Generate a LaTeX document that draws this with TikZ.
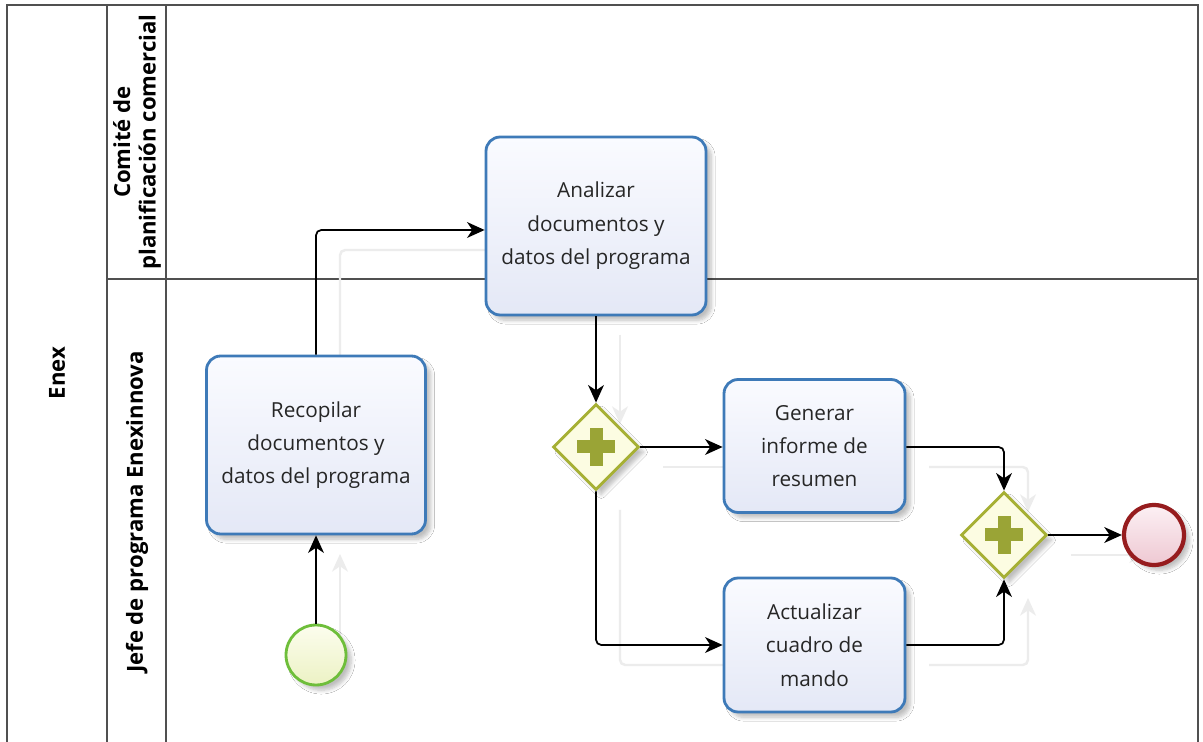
\documentclass[tikz,border=0pt]{standalone}
\usepackage{fontspec}
\setmainfont{Open Sans}
\usetikzlibrary{arrows.meta,shapes.geometric,shadows.blur}

\definecolor{taskline}{RGB}{62,122,184}
\definecolor{tasktop}{RGB}{250,251,255}
\definecolor{taskbot}{RGB}{228,232,246}
\definecolor{gwline}{RGB}{166,176,52}
\definecolor{gwfill}{RGB}{252,252,226}
\definecolor{gwplus}{RGB}{154,164,54}
\definecolor{startline}{RGB}{110,190,58}
\definecolor{starttop}{RGB}{252,253,238}
\definecolor{startbot}{RGB}{236,242,196}
\definecolor{endline}{RGB}{150,28,30}
\definecolor{endtop}{RGB}{252,240,244}
\definecolor{endbot}{RGB}{238,200,210}
\definecolor{poolline}{RGB}{80,80,80}
\definecolor{flowshadecol}{RGB}{236,236,236}

\tikzset{
  softshadow/.style={blur shadow={shadow xshift=3pt, shadow yshift=-3pt,
    shadow blur steps=6, shadow opacity=25}},
  task/.style={rectangle, rounded corners=8pt, draw=taskline, line width=1.6pt,
    top color=tasktop, bottom color=taskbot, align=center,
    font=\fontsize{11.8}{19}\selectfont, text=black!85, softshadow},
  gateway/.style={diamond, aspect=1, minimum size=1.72cm, inner sep=0pt,
    draw=gwline, line width=1.6pt, fill=gwfill, softshadow},
  startev/.style={circle, minimum size=1.2cm, inner sep=0pt, draw=startline, line width=1.6pt,
    top color=starttop, bottom color=startbot, softshadow},
  endev/.style={circle, minimum size=1.2cm, inner sep=0pt, draw=endline, line width=2.4pt,
    top color=endtop, bottom color=endbot, softshadow},
  flow/.style={draw=black, line width=1pt, rounded corners=3pt,
    -{Stealth[length=10pt,width=9pt,inset=3pt]}},
  flowshadow/.style={draw=flowshadecol, line width=1.4pt, rounded corners=3pt,
    -{Stealth[length=10pt,width=9pt,inset=3pt]}},
  lanelabel/.style={font=\fontsize{12.6}{14.5}\bfseries\selectfont, rotate=90, align=center},
  plusarm/.style={fill=gwplus, draw=none}
}

\begin{document}
\begin{tikzpicture}[x=0.02cm, y=-0.02cm]
  \useasboundingbox (0,0) rectangle (1203,742);
  \clip (0,0) rectangle (1203,742);
  \fill[white] (0,0) rectangle (1203,742);

  % pool and lanes
  \draw[poolline, line width=1.2pt] (7,760) -- (7,5) -- (1198,5) -- (1198,760);
  \draw[poolline, line width=0.9pt] (107,5) -- (107,760);
  \draw[poolline, line width=0.9pt] (166,5) -- (166,760);
  \draw[poolline, line width=0.9pt] (107,279) -- (1198,279);

  \node[lanelabel] (pool) at (57,373) {Enex};
  \node[lanelabel] (lane1) at (137,142) {Comité de\\planificación comercial};
  \node[lanelabel] (lane2) at (137,512) {Jefe de programa Enexinnova};

  % anchor points of the flow elements, so the flow shadows can go underneath
  \coordinate (analizarC)   at (596,226);
  \coordinate (recopilarC)  at (316,445);
  \coordinate (generarC)    at (814.5,446);
  \coordinate (actualizarC) at (814.5,645);
  \coordinate (splitC)      at (596,447);
  \coordinate (joinC)       at (1004,535);
  \coordinate (startC)      at (316,655);
  \coordinate (endC)        at (1154,535);

  % faint drop shadows of the sequence flows (offset copies, drawn first)
  \begin{scope}[transform canvas={shift={(24*0.02cm,-20*0.02cm)}}]
    \draw[flowshadow] ([yshift=30*0.02cm]startC) -- ([yshift=-89*0.02cm]recopilarC);
    \draw[flowshadow] ([yshift=89*0.02cm]recopilarC) |- ([xshift=-110*0.02cm, yshift=-4*0.02cm]analizarC);
    \draw[flowshadow] ([yshift=-89*0.02cm]analizarC) -- ([yshift=43*0.02cm]splitC);
    \draw[flowshadow] ([xshift=43*0.02cm]splitC) -- ([xshift=-90.5*0.02cm, yshift=-1*0.02cm]generarC);
    \draw[flowshadow] ([yshift=-43*0.02cm]splitC) |- ([xshift=-90.5*0.02cm]actualizarC);
    \draw[flowshadow] ([xshift=90.5*0.02cm, yshift=-1*0.02cm]generarC) -| ([yshift=43*0.02cm]joinC);
    \draw[flowshadow] ([xshift=90.5*0.02cm]actualizarC) -| ([yshift=-43*0.02cm]joinC);
    \draw[flowshadow] ([xshift=43*0.02cm]joinC) -- ([xshift=-31*0.02cm]endC);
  \end{scope}

  % flow elements
  \node[task, minimum width=4.4cm, minimum height=3.56cm] (analizar) at (analizarC)
    {Analizar\\documentos y\\datos del programa};
  \node[task, minimum width=4.38cm, minimum height=3.56cm] (recopilar) at (recopilarC)
    {Recopilar\\documentos y\\datos del programa};
  \node[task, minimum width=3.62cm, minimum height=2.66cm] (generar) at (generarC)
    {Generar\\informe de\\resumen};
  \node[task, minimum width=3.62cm, minimum height=2.68cm] (actualizar) at (actualizarC)
    {Actualizar\\cuadro de\\mando};
  \node[gateway] (split) at (splitC) {};
  \node[gateway] (join) at (joinC) {};
  \node[startev] (start) at (startC) {};
  \node[endev] (end) at (endC) {};

  % parallel markers
  \foreach \g in {split, join} {
    \fill[plusarm] ([xshift=-19*0.02cm, yshift=-6.5*0.02cm]\g.center) rectangle ([xshift=19*0.02cm, yshift=6.5*0.02cm]\g.center);
    \fill[plusarm] ([xshift=-6.5*0.02cm, yshift=-19*0.02cm]\g.center) rectangle ([xshift=6.5*0.02cm, yshift=19*0.02cm]\g.center);
  }

  % sequence flows
  \draw[flow] (start.north) -- (recopilar.south);
  \draw[flow] (recopilar.north) |- (analizar.west |- 0,230);
  \draw[flow] (analizar.south) -- (split.north);
  \draw[flow] (split.east) -- (generar.west |- split.east);
  \draw[flow] (split.south) |- (actualizar.west);
  \draw[flow] (generar.east |- split.east) -| (join.north);
  \draw[flow] (actualizar.east) -| (join.south);
  \draw[flow] (join.east) -- (end.west);
\end{tikzpicture}
\end{document}
